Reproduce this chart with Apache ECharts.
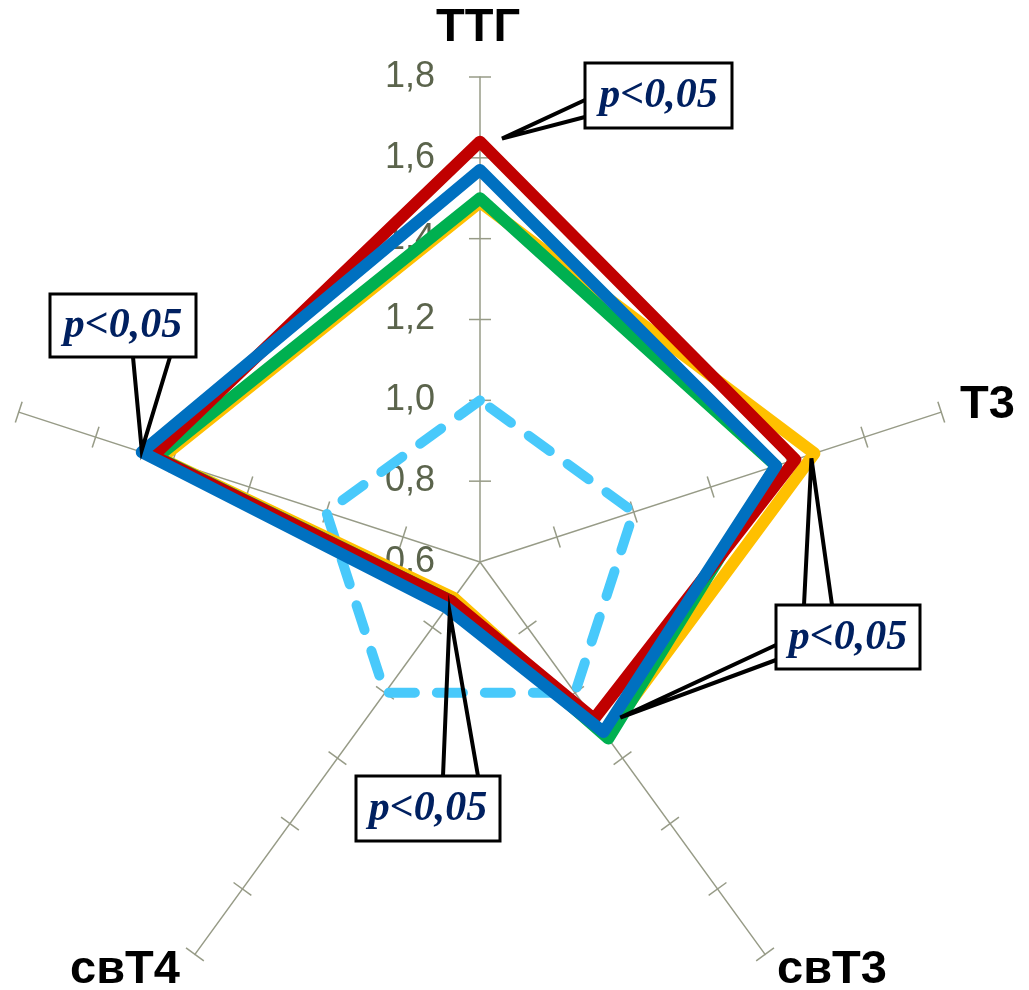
<!DOCTYPE html>
<html><head><meta charset="utf-8">
<script src="https://cdn.jsdelivr.net/npm/echarts@6/dist/echarts.min.js"></script>
<style>html,body{margin:0;padding:0;background:#fff}#c{width:1029px;height:990px}</style>
</head><body><div id="c"></div>
<script>
// Indicators counter-clockwise from top (ECharts radar order)
const indicatorNames = ['ТТГ', '', 'свТ4', 'свТ3', 'Т3'];
const tickValues = [0.6, 0.8, 1.0, 1.2, 1.4, 1.6, 1.8];
const seriesControl = [1.0, 1.0, 1.0, 1.0, 1.0];
const seriesYellow = [1.49, 1.43, 0.71, 1.13, 1.47];
const seriesGreen = [1.50, 1.44, 0.72, 1.14, 1.37];
const seriesRed = [1.64, 1.45, 0.72, 1.08, 1.42];
const seriesBlue = [1.57, 1.48, 0.74, 1.12, 1.37];
const pLabel = 'p<0,05';

const CX = 480, CY = 562, R = 485;
const MIN = tickValues[0], MAX = tickValues[tickValues.length - 1];
function ang(i) { return (90 + i * 360 / indicatorNames.length) * Math.PI / 180; }
function pt(i, v) {
  const a = ang(i);
  const r = (v - MIN) / (MAX - MIN) * R;
  return [CX + r * Math.cos(a), CY - r * Math.sin(a)];
}
function fmt(v) { return (Math.round(v * 10) / 10).toFixed(1).replace('.', ','); }

const axisColor = '#979b87';
const tickLabelStyle = { show: true, margin: 45, fontSize: 36, fontFamily: 'Liberation Sans', color: '#5b644c', formatter: fmt };

const radar = {
  center: [CX, CY], radius: R, startAngle: 90, splitNumber: tickValues.length - 1, shape: 'polygon',
  indicator: indicatorNames.map((n, i) => ({ name: n, min: MIN, max: MAX,
    axisLabel: i === 0 ? Object.assign({}, tickLabelStyle) : { show: false } })),
  axisName: { show: false },
  axisLine: { show: true, lineStyle: { color: axisColor, width: 1.5 } },
  axisTick: { show: false },
  axisLabel: tickLabelStyle,
  splitLine: { show: false }, splitArea: { show: false }
};

function lineSeries(name, values, color, extra) {
  return {
    type: 'radar', radarIndex: 0, name: name, symbol: 'none', silent: true,
    data: [{ value: values, name: name }],
    lineStyle: Object.assign({ color: color, width: 12, join: 'round', cap: 'round' }, extra || {})
  };
}

// Axis name labels
const nameFont = 'bold 47px "Liberation Sans"';
const nameLabels = [
  { i: 0, x: 478, y: 28, align: 'center' },
  { i: 4, x: 960, y: 405, align: 'left' },
  { i: 2, x: 70, y: 970, align: 'left' },
  { i: 3, x: 777, y: 970, align: 'left' }
];

// Annotation boxes with callouts to data vertices
const annotations = [
  { box: [585, 63, 147, 65], legs: [{ from: [[585, 100], [585, 117]], series: seriesRed, axis: 0, off: [22, -3] }] },
  { box: [50, 294, 146, 63], legs: [{ from: [[133, 357], [170, 357]], series: seriesBlue, axis: 1, off: [0, -2] }] },
  { box: [776, 605, 144, 64], legs: [
      { from: [[804, 605], [832, 605]], series: seriesYellow, axis: 4, off: [-3, 5] },
      { from: [[776, 645], [776, 660]], series: seriesGreen, axis: 3, off: [12, -21] } ] },
  { box: [356, 776, 144, 65], legs: [{ from: [[443, 776], [478, 776]], series: seriesBlue, axis: 2, off: [3, 5] }] }
];

const graphics = [];
// Cross-shaped tick marks on every indicator axis
indicatorNames.forEach((n, i) => {
  const a = ang(i);
  const nx = Math.sin(a), ny = Math.cos(a);
  tickValues.slice(1).forEach(v => {
    const p = pt(i, v);
    graphics.push({ type: 'line', z: 1, silent: true,
      shape: { x1: p[0] - 11 * nx, y1: p[1] - 11 * ny, x2: p[0] + 11 * nx, y2: p[1] + 11 * ny },
      style: { stroke: axisColor, lineWidth: 1.5 } });
  });
});
nameLabels.forEach(l => {
  graphics.push({ type: 'text', x: l.x, y: l.y, z: 100,
    style: { text: indicatorNames[l.i], font: nameFont, fill: '#000', align: l.align, verticalAlign: 'middle' } });
});
annotations.forEach(a => {
  a.legs.forEach(leg => {
    const p = pt(leg.axis, leg.series[leg.axis]);
    const tip = [p[0] + leg.off[0], p[1] + leg.off[1]];
    graphics.push({ type: 'polyline', z: 99,
      shape: { points: [leg.from[0], tip, leg.from[1]] },
      style: { stroke: '#000', lineWidth: 4, fill: null, lineJoin: 'miter' } });
  });
  const [x, y, w, h] = a.box;
  graphics.push({ type: 'rect', z: 100, shape: { x: x, y: y, width: w, height: h },
    style: { fill: '#fff', stroke: '#000', lineWidth: 3 } });
  graphics.push({ type: 'text', z: 101, x: x + w / 2, y: y + h / 2 + 1,
    style: { text: pLabel, font: 'italic bold 42px "Liberation Serif"', fill: '#002060', align: 'center', verticalAlign: 'middle' } });
});

const chart = echarts.init(document.getElementById('c'), null, { renderer: 'canvas' });
chart.setOption({
  animation: false,
  backgroundColor: '#fff',
  radar: radar,
  series: [
    lineSeries('Контроль', seriesControl, '#48c9fb', { width: 10, type: [26, 22] }),
    lineSeries('Группа 1', seriesYellow, '#ffc000'),
    lineSeries('Группа 2', seriesGreen, '#00b050'),
    lineSeries('Группа 3', seriesRed, '#c00000'),
    lineSeries('Группа 4', seriesBlue, '#0070c0')
  ],
  graphic: { elements: graphics }
});
</script></body></html>
